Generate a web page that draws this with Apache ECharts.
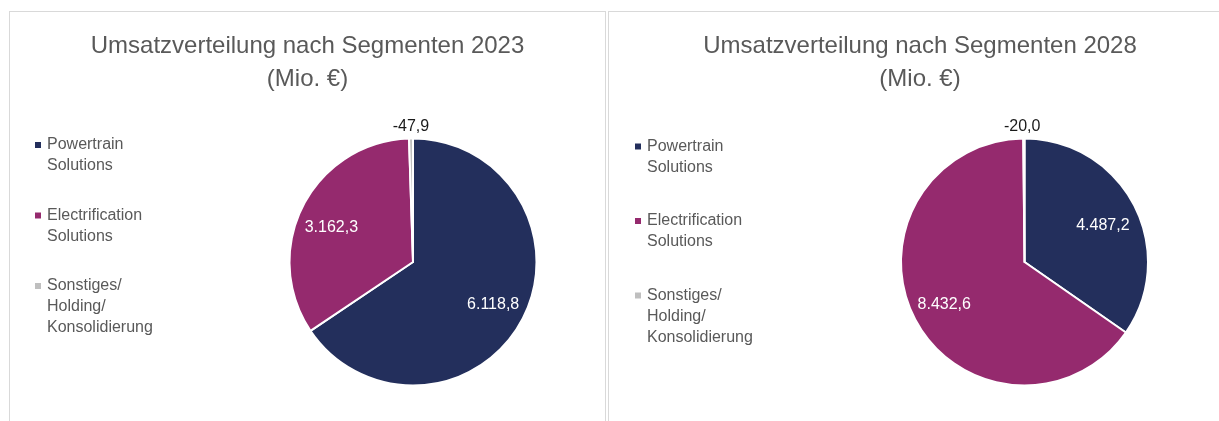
<!DOCTYPE html>
<html>
<head>
<meta charset="utf-8">
<title>Umsatzverteilung nach Segmenten</title>
<script src="https://cdn.jsdelivr.net/npm/echarts@6/dist/echarts.min.js"></script>
<style>
	html, body { margin: 0; padding: 0; background: #fff; overflow: hidden; width: 1219px; height: 421px; }
	.panel { position: absolute; top: 11px; height: 430px; border: 1px solid #d9d9d9; box-sizing: border-box; }
	.panel div { width: 100%; height: 100%; }
	#p2023 { left: 9px; width: 597px; }
	#p2028 { left: 608px; width: 624px; }
</style>
</head>
<body>
<div class="panel" id="p2023"><div id="chart2023"></div></div>
<div class="panel" id="p2028"><div id="chart2028"></div></div>
<script>
// Segmente und Werte (Mio. €)
var segmente = ['Powertrain Solutions', 'Electrification Solutions', 'Sonstiges/ Holding/ Konsolidierung'];
var legendenText = ['Powertrain\nSolutions', 'Electrification\nSolutions', 'Sonstiges/\nHolding/\nKonsolidierung'];
var umsatz2023 = [6118.8, 3162.3, -47.9];
var umsatz2028 = [4487.2, 8432.6, -20.0];
var farben = ['#232f5c', '#952a6e', '#bfbfbf'];

var schrift = "'Liberation Sans', Arial, sans-serif";

// Zahl im deutschen Format, z.B. 6.118,8
function formatDe(v) {
	var teile = Math.abs(v).toFixed(1).split('.');
	var ganz = teile[0].replace(/\B(?=(\d{3})+(?!\d))/g, '.');
	return (v < 0 ? '-' : '') + ganz + ',' + teile[1];
}

// Legendeneintrag: Quadrat nur vor der ersten Zeile
function legendeFormat(name) {
	var idx = segmente.indexOf(name);
	return legendenText[idx].split('\n').map(function (z, j) {
		return (j === 0 ? '{m' + idx + '|}' : '{sp|}') + '{t|' + z + '}';
	}).join('\n');
}

function legendeRich() {
	var rich = {
		sp: { width: 6, height: 6 },
		t: { fontFamily: schrift, fontSize: 16, lineHeight: 21, color: '#595959', padding: [0, 0, 0, 6] }
	};
	farben.forEach(function (f, i) {
		rich['m' + i] = { width: 6, height: 6, backgroundColor: f };
	});
	return rich;
}

function zeichneTorte(domId, titel, werte, opt) {
	var myChart = echarts.init(document.getElementById(domId));
	var daten = werte.map(function (w, i) {
		return {
			name: segmente[i],
			value: Math.abs(w),
			wert: w,
			itemStyle: { color: farben[i] },
			label: { offset: opt.labelVersatz[i], color: i === 2 ? '#1a1a1a' : '#ffffff' }
		};
	});
	var option = {
		animation: false,
		title: {
			text: titel,
			left: 'center',
			top: 18,
			padding: 0,
			textStyle: {
				fontFamily: schrift,
				fontSize: 24,
				lineHeight: 33,
				fontWeight: 'normal',
				color: '#595959'
			}
		},
		legend: {
			orient: 'vertical',
			left: opt.legendeLinks,
			top: opt.legendeOben,
			padding: 0,
			itemGap: opt.legendeAbstand,
			itemWidth: 0,
			itemHeight: 0,
			selectedMode: false,
			data: segmente,
			formatter: legendeFormat,
			textStyle: { fontFamily: schrift, fontSize: 16, lineHeight: 21, color: '#595959', rich: legendeRich() }
		},
		series: [{
			type: 'pie',
			center: opt.mitte,
			radius: 123.5,
			startAngle: 90,
			clockwise: true,
			avoidLabelOverlap: false,
			silent: true,
			itemStyle: { borderColor: '#ffffff', borderWidth: 2 },
			label: {
				show: true,
				position: 'inside',
				fontFamily: schrift,
				fontSize: 16,
				formatter: function (p) { return formatDe(p.data.wert); }
			},
			labelLine: { show: false },
			emphasis: { disabled: true },
			data: daten
		}]
	};
	myChart.setOption(option);
}

zeichneTorte('chart2023', 'Umsatzverteilung nach Segmenten 2023\n(Mio. €)', umsatz2023, {
	mitte: [403, 250],
	legendeLinks: 19,
	legendeOben: 122.5,
	legendeAbstand: 28.5,
	labelVersatz: [[23, 12], [-24, -5], [-1, -71]]
});
zeichneTorte('chart2028', 'Umsatzverteilung nach Segmenten 2028\n(Mio. €)', umsatz2028, {
	mitte: [415.5, 250],
	legendeLinks: 20,
	legendeOben: 124,
	legendeAbstand: 32.5,
	labelVersatz: [[21, -6], [-23, 12], [-2, -71]]
});
</script>
</body>
</html>
